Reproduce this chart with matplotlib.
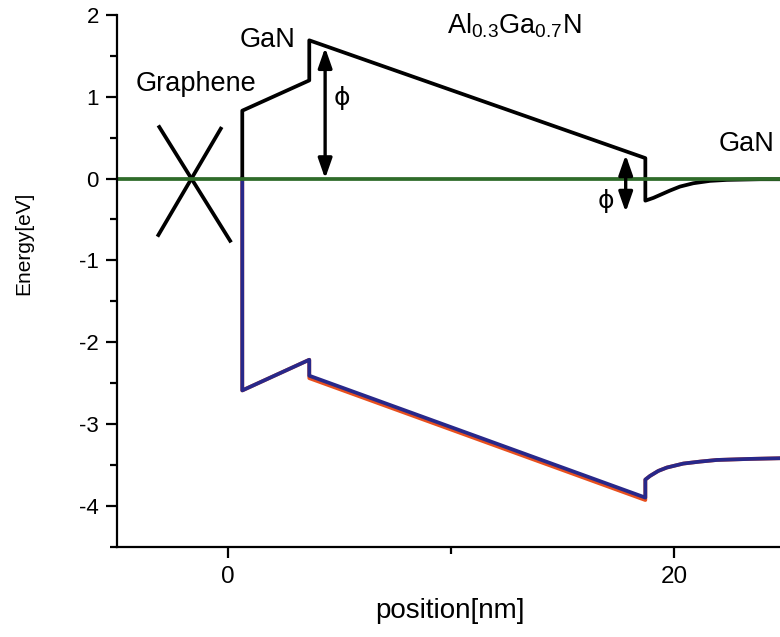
import matplotlib
matplotlib.use("Agg")
import matplotlib.pyplot as plt
from matplotlib.ticker import MultipleLocator

plt.rcParams["font.family"] = ["Liberation Sans", "DejaVu Sans"]
plt.rcParams["axes.unicode_minus"] = False

# conduction band edge (eV) vs position (nm)
cb_x = [0.65, 0.65, 3.65, 3.65, 18.7, 18.7, 19.06, 19.36, 19.8, 20.25,
        20.85, 21.6, 22.35, 23.85, 24.9]
cb_e = [0.0, 0.83, 1.20, 1.69, 0.25, -0.27, -0.236, -0.20, -0.147, -0.098,
        -0.057, -0.028, -0.016, -0.008, -0.008]

# valence band edge
vb_x = [0.65, 0.65, 3.65, 3.65, 18.7, 18.7, 18.91, 19.28, 19.66, 20.40,
        21.15, 21.90, 23.40, 24.9]
vb_e = [0.0, -2.59, -2.215, -2.41, -3.90, -3.68, -3.635, -3.574, -3.533,
        -3.484, -3.46, -3.44, -3.427, -3.418]
# second valence subband, splits off slightly in the barrier
vb2_e = [0.0, -2.59, -2.215, -2.44, -3.93, -3.68, -3.635, -3.574, -3.533,
         -3.484, -3.46, -3.44, -3.427, -3.418]

# graphene Dirac cone sketch
cone_a_x, cone_a_e = [-3.11, 0.15], [0.65, -0.78]
cone_b_x, cone_b_e = [-0.27, -3.15], [0.63, -0.71]

fermi_x = [-5.0, 25.0]
fermi_e = [0.0, 0.0]

# barrier height arrows: (x, bottom, top)
phi_arrows = [(4.36, 0.0, 1.60), (17.82, -0.41, 0.29)]

fig = plt.figure(figsize=(7.8, 6.37), dpi=100)
ax = fig.add_axes([0.15, 0.1418, 0.85, 0.8347])

ax.plot(cone_a_x, cone_a_e, color="black", lw=2.7, solid_capstyle="butt")
ax.plot(cone_b_x, cone_b_e, color="black", lw=2.7, solid_capstyle="butt")
ax.plot(vb_x, vb2_e, color="#e8501e", lw=2.7)
ax.plot(vb_x, vb_e, color="#28288a", lw=2.7)
ax.plot(cb_x, cb_e, color="black", lw=2.7)
ax.plot(fermi_x, fermi_e, color="#2f6b2a", lw=2.7)

for x, lo, hi in phi_arrows:
    ax.annotate("", xy=(x, hi), xytext=(x, lo),
                arrowprops=dict(arrowstyle="<|-|>,head_length=0.8,head_width=0.28",
                                mutation_scale=15, lw=2.4, color="black",
                                shrinkA=0, shrinkB=0))

ax.text(5.12, 0.99, "ϕ", fontsize=18, family=["DejaVu Sans"],
        ha="center", va="center")
ax.text(16.93, -0.27, "ϕ", fontsize=18, family=["DejaVu Sans"],
        ha="center", va="center")

ax.text(-1.4, 1.069, "Graphene", fontsize=19.5, ha="center", va="baseline")
ax.text(1.78, 1.607, "GaN", fontsize=19.5, ha="center", va="baseline")
ax.text(9.83, 1.775, r"Al$_\mathregular{0.3}$Ga$_\mathregular{0.7}$N",
        fontsize=19.5, ha="left", va="baseline")
ax.text(23.23, 0.343, "GaN", fontsize=19.5, ha="center", va="baseline")

ax.set_xlim(-4.96, 24.73)
ax.set_ylim(-4.5, 2.0)
ax.spines["top"].set_visible(False)
ax.spines["right"].set_visible(False)
for s in ("left", "bottom"):
    ax.spines[s].set_linewidth(1.6)

ax.xaxis.set_major_locator(MultipleLocator(20))
ax.xaxis.set_minor_locator(MultipleLocator(10))
ax.yaxis.set_major_locator(MultipleLocator(1))
ax.yaxis.set_minor_locator(MultipleLocator(0.5))
ax.tick_params(which="major", length=8, width=1.6)
ax.tick_params(which="minor", length=4.8, width=1.6)
ax.tick_params(axis="y", labelsize=16, pad=5)
ax.tick_params(axis="x", labelsize=17.5, pad=6)

fig.text(450 / 780, 1 - 611 / 637, "position[nm]", fontsize=20,
         ha="center", va="center")
fig.text(24 / 780, 1 - 243 / 637, "Energy[eV]", fontsize=15,
         rotation=90, ha="center", va="center")

fig.savefig("out.png", dpi=100)
